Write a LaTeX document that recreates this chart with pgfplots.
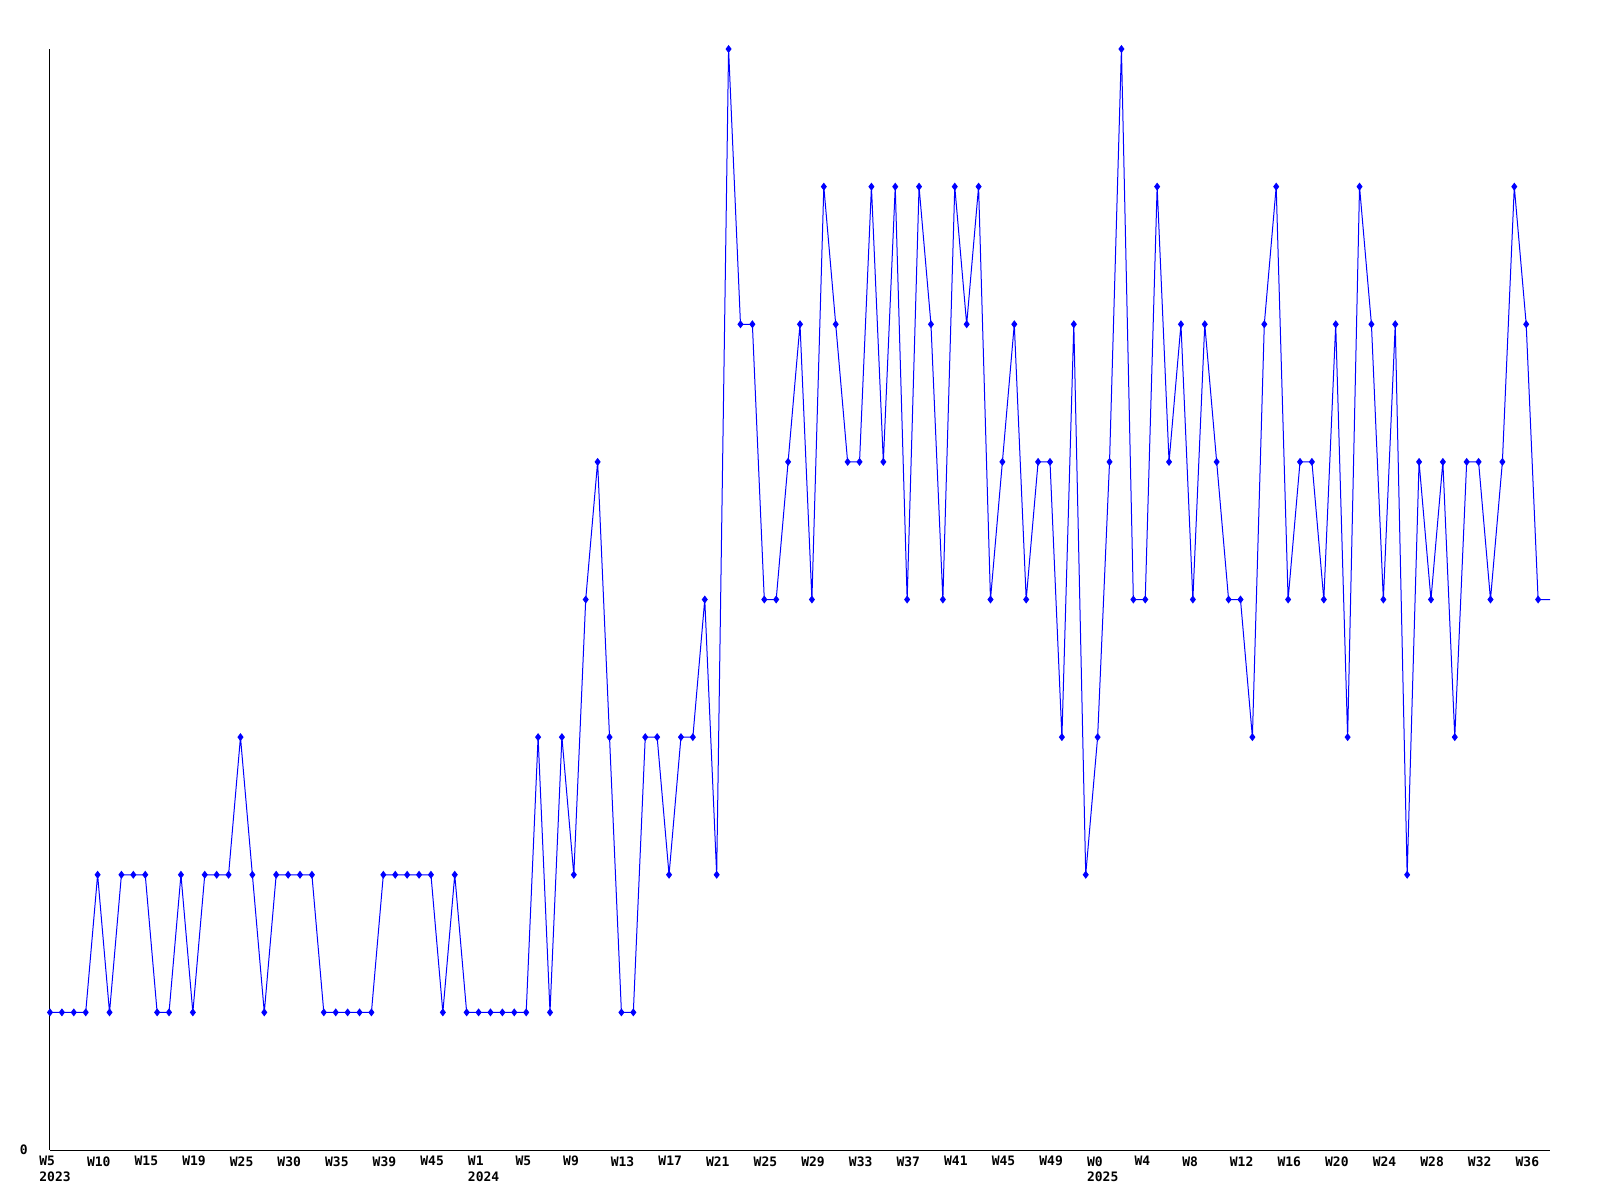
\documentclass[border=0pt]{standalone}
\usepackage{fontspec}
\setmonofont{DejaVu Sans Mono}
\usepackage{pgfplots}
\pgfplotsset{compat=1.18}
\definecolor{lineblue}{RGB}{0,0,255}

\pgfplotstableread{
i v
0 1
1 1
2 1
3 1
4 2
5 1
6 2
7 2
8 2
9 1
10 1
11 2
12 1
13 2
14 2
15 2
16 3
17 2
18 1
19 2
20 2
21 2
22 2
23 1
24 1
25 1
26 1
27 1
28 2
29 2
30 2
31 2
32 2
33 1
34 2
35 1
36 1
37 1
38 1
39 1
40 1
41 3
42 1
43 3
44 2
45 4
46 5
47 3
48 1
49 1
50 3
51 3
52 2
53 3
54 3
55 4
56 2
57 8
58 6
59 6
60 4
61 4
62 5
63 6
64 4
65 7
66 6
67 5
68 5
69 7
70 5
71 7
72 4
73 7
74 6
75 4
76 7
77 6
78 7
79 4
80 5
81 6
82 4
83 5
84 5
85 3
86 6
87 2
88 3
89 5
90 8
91 4
92 4
93 7
94 5
95 6
96 4
97 6
98 5
99 4
100 4
101 3
102 6
103 7
104 4
105 5
106 5
107 4
108 6
109 3
110 7
111 6
112 4
113 6
114 2
115 5
116 4
117 5
118 3
119 5
120 5
121 4
122 5
123 7
124 6
125 4
126 4
}\weekly

\begin{document}
\begin{tikzpicture}
\path[use as bounding box] (-25pt,-25pt) rectangle (775pt,575pt);
\begin{axis}[
  at={(0,0)}, anchor=south west,
  scale only axis,
  width=750pt, height=550.5pt,
  xmin=0, xmax=126,
  ymin=0, ymax=8,
  axis lines=left,
  axis line style={-, black, line width=0.5pt},
  major tick length=0pt,
  ytick={0},
  yticklabels={0},
  yticklabel style={anchor=east, inner sep=0pt, xshift=-11pt,
    font=\ttfamily\bfseries\fontsize{6.5}{7.7}\selectfont},
  xtick={0,4,...,124},
  xticklabels={{W5\\2023},W10,W15,W19,W25,W30,W35,W39,W45,{W1\\2024},W5,W9,W13,W17,W21,W25,W29,W33,W37,W41,W45,W49,{W0\\2025},W4,W8,W12,W16,W20,W24,W28,W32,W36},
  xticklabel style={anchor=north west, align=left, inner sep=0pt, xshift=-5.5pt, yshift=-3pt,
    font=\ttfamily\bfseries\fontsize{6.5}{7.7}\selectfont},
  clip=false,
]
\addplot[lineblue, line width=0.5pt,
  mark=diamond*, mark size=1.6pt, mark options={fill=lineblue, draw=lineblue},
  mark indices={1,...,126}] table[x=i, y=v] {\weekly};
\end{axis}
\end{tikzpicture}
\end{document}
